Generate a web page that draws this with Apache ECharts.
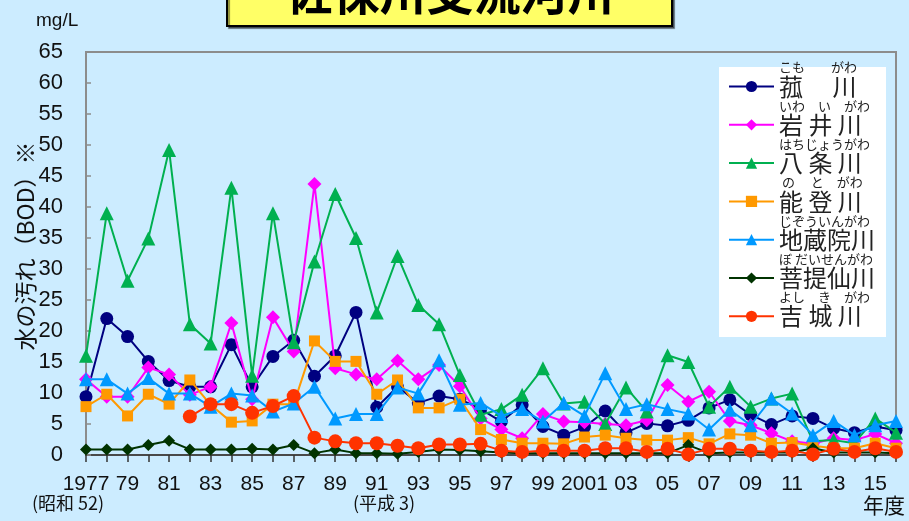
<!DOCTYPE html>
<html>
<head>
<meta charset="utf-8">
<script src="https://cdn.jsdelivr.net/npm/echarts@6/dist/echarts.min.js"></script>
<style>
html,body{margin:0;padding:0;background:#CCECFF;}
#c{width:909px;height:521px;}
</style>
</head>
<body>
<div id="c"></div>
<script>
var years = ['1977','78','79','80','81','82','83','84','85','86','87','88','89','90','91','92','93','94','95','96','97','98','99','2000','2001','02','03','04','05','06','07','08','09','10','11','12','13','14','15','16'];
var yTicks = [0,5,10,15,20,25,30,35,40,45,50,55,60,65];

var seriesNames = ['菰川','岩井川','八条川','能登川','地蔵院川','菩提仙川','吉城川'];
var legendLabels = ['菰　 川','岩 井 川','八 条 川','能 登 川','地蔵院川','菩提仙川','吉 城 川'];
var furigana = ['こも　　がわ','いわ　い　がわ','はちじょうがわ',' の　 と　がわ','じぞういんがわ','ぼ だいせんがわ','よし　き　がわ'];

var komo = [9.4,22.0,19.1,15.1,12.0,11.0,11.0,17.8,11.0,15.9,18.5,12.7,16.0,23.0,7.7,11.0,8.4,9.5,9.0,7.4,5.4,8.1,4.6,3.2,4.5,7.1,3.6,5.1,4.7,5.6,7.6,8.9,6.5,4.9,6.3,5.9,4.3,3.6,4.6,4.0];
var iwai = [12.2,9.4,9.4,14.1,13.0,9.7,11.0,21.3,9.0,22.2,16.7,43.7,14.0,13.0,12.2,15.2,12.2,14.5,11.1,5.9,4.1,2.7,6.6,5.4,5.3,5.0,4.8,5.6,11.3,8.6,10.2,5.5,4.8,3.5,2.2,1.8,2.7,2.4,3.4,1.9];
var hachijo = [16.0,39.0,28.1,34.9,49.2,21.1,18.0,43.1,12.8,39.0,18.2,31.2,42.1,35.0,23.0,32.1,24.2,21.1,12.9,6.5,7.4,9.7,14.0,8.3,8.6,5.0,10.9,7.0,16.1,15.0,7.8,11.0,7.8,9.1,9.9,2.2,2.4,1.9,5.9,3.6];
var noto = [7.8,9.8,6.3,9.8,8.2,12.1,8.1,5.3,5.5,8.2,8.2,18.4,15.1,15.1,9.8,12.1,7.6,7.6,9.0,4.1,2.5,1.9,1.9,1.8,2.9,3.2,2.7,2.4,2.4,2.8,1.8,3.4,3.2,1.9,2.0,1.5,1.1,1.1,1.9,1.1];
var jizoin = [12.2,12.2,9.9,12.4,9.9,9.9,7.8,9.9,9.6,7.0,8.3,11.0,5.9,6.6,6.6,10.9,9.9,15.3,8.1,8.4,6.3,7.4,5.4,8.4,6.3,13.2,7.4,8.2,7.4,6.7,4.1,7.3,4.8,9.1,6.7,3.2,5.5,3.2,4.8,5.5];
var bodaisen = [0.9,0.9,0.9,1.6,2.3,0.9,0.9,0.9,1.0,0.9,1.6,0.3,0.9,0.3,0.3,0.2,0.5,0.9,0.8,0.6,0.4,0.3,0.3,0.3,0.3,0.3,0.3,0.3,0.3,1.6,0.3,0.4,0.4,0.4,0.4,1.1,0.4,0.4,0.4,0.3];
var yoshiki = [null,null,null,null,null,6.2,8.2,8.2,6.8,7.9,9.5,2.8,2.2,1.9,1.9,1.5,1.1,1.7,1.7,1.8,0.7,0.5,0.7,0.7,0.7,1.1,1.1,0.5,1.0,0.1,1.0,1.0,0.7,0.5,0.7,0.1,1.0,0.5,1.1,0.5];

var values = [komo, iwai, hachijo, noto, jizoin, bodaisen, yoshiki];
var colors = ['#000080','#FF00FF','#00B050','#FF9900','#0099FF','#003300','#FF3300'];
var symbols = ['circle','diamond','triangle','rect','triangle','diamond','circle'];
var symSizes = [13,14,14,11,14,12,14];

var labelMap = {}, furiMap = {};
seriesNames.forEach(function(n,i){ labelMap[n]=legendLabels[i]; furiMap[n]=furigana[i]; });

var chart = echarts.init(document.getElementById('c'));
var CJK = '"Noto Sans CJK JP", "Noto Sans", sans-serif';
var LAT = '"Liberation Sans", Arial, sans-serif';

chart.setOption({
  backgroundColor: '#CCECFF',
  animation: false,
  grid: { left: 86, right: 13, top: 52, bottom: 66, show: true, borderColor: '#8c8c8c', borderWidth: 2, backgroundColor: 'transparent' },
  xAxis: {
    type: 'category', data: years, boundaryGap: false,
    axisLine: { lineStyle: { color: '#333', width: 1.5 } },
    axisTick: { show: true, interval: 0, length: 7, lineStyle: { color: '#333', width: 1.5 } },
    axisLabel: { interval: 1, margin: 19, fontSize: 21, fontFamily: LAT, color: '#111' },
    splitLine: { show: false }
  },
  yAxis: {
    type: 'value', min: yTicks[0], max: yTicks[yTicks.length-1], interval: 5,
    axisLine: { show: true, lineStyle: { color: '#8c8c8c', width: 2 } },
    axisTick: { show: true, inside: true, length: 5, lineStyle: { color: '#8c8c8c', width: 1.5 } },
    axisLabel: { margin: 23, fontSize: 22, fontFamily: LAT, color: '#111' },
    splitLine: { show: false }
  },
  legend: {
    orient: 'vertical', left: 728, top: 61, padding: 0, itemGap: -12.2,
    itemWidth: 45, itemHeight: 14, selectedMode: false,
    data: seriesNames,
    formatter: function(n){ return '{f|' + furiMap[n] + '}\n{n|' + labelMap[n] + '}\n{e| }'; },
    textStyle: {
      color: '#222', fontFamily: CJK,
      rich: {
        f: { fontSize: 13, lineHeight: 14, fontFamily: CJK, color: '#222' },
        n: { fontSize: 24, lineHeight: 24, fontFamily: CJK, color: '#222' },
        e: { fontSize: 12, lineHeight: 14 }
      }
    }
  },
  graphic: [
    { type: 'rect', z: 1, shape: { x: 719, y: 67, width: 167, height: 270 }, style: { fill: '#fff' } },
    { type: 'rect', z: 10, shape: { x: 227, y: -40, width: 445, height: 66 },
      style: { fill: '#FFFF66', stroke: '#000', lineWidth: 2, shadowColor: 'rgba(0,0,0,0.45)', shadowOffsetX: 2, shadowOffsetY: 2, shadowBlur: 1 } },
    { type: 'text', z: 11, x: 450, y: -8, style: { text: '佐保川支流河川', fontSize: 47, fontWeight: 'bold', fontFamily: CJK, fill: '#000', align: 'center', verticalAlign: 'middle' } },
    { type: 'text', z: 11, x: 36, y: 21, style: { text: 'mg/L', fontSize: 19, fontFamily: LAT, fill: '#111', align: 'left', verticalAlign: 'middle' } },
    { type: 'text', z: 11, x: 25, y: 246, rotation: Math.PI/2, style: { text: '水の汚れ（BOD）※', fontSize: 23, fontFamily: CJK, fill: '#111', align: 'center', verticalAlign: 'middle' } },
    { type: 'text', z: 11, x: 68, y: 503, style: { text: '(昭和 52)', fontSize: 18, fontFamily: CJK, fill: '#111', align: 'center', verticalAlign: 'middle' } },
    { type: 'text', z: 11, x: 384, y: 503, style: { text: '(平成 3)', fontSize: 18, fontFamily: CJK, fill: '#111', align: 'center', verticalAlign: 'middle' } },
    { type: 'text', z: 11, x: 884, y: 505, style: { text: '年度', fontSize: 21, fontFamily: CJK, fill: '#111', align: 'center', verticalAlign: 'middle' } }
  ],
  series: seriesNames.map(function(n,i){
    return {
      name: n, type: 'line', data: values[i],
      symbol: symbols[i], symbolSize: symSizes[i], showAllSymbol: true,
      connectNulls: false,
      lineStyle: { color: colors[i], width: 2 },
      itemStyle: { color: colors[i], borderWidth: 0 },
      z: 2 + i
    };
  })
});
</script>
</body>
</html>
